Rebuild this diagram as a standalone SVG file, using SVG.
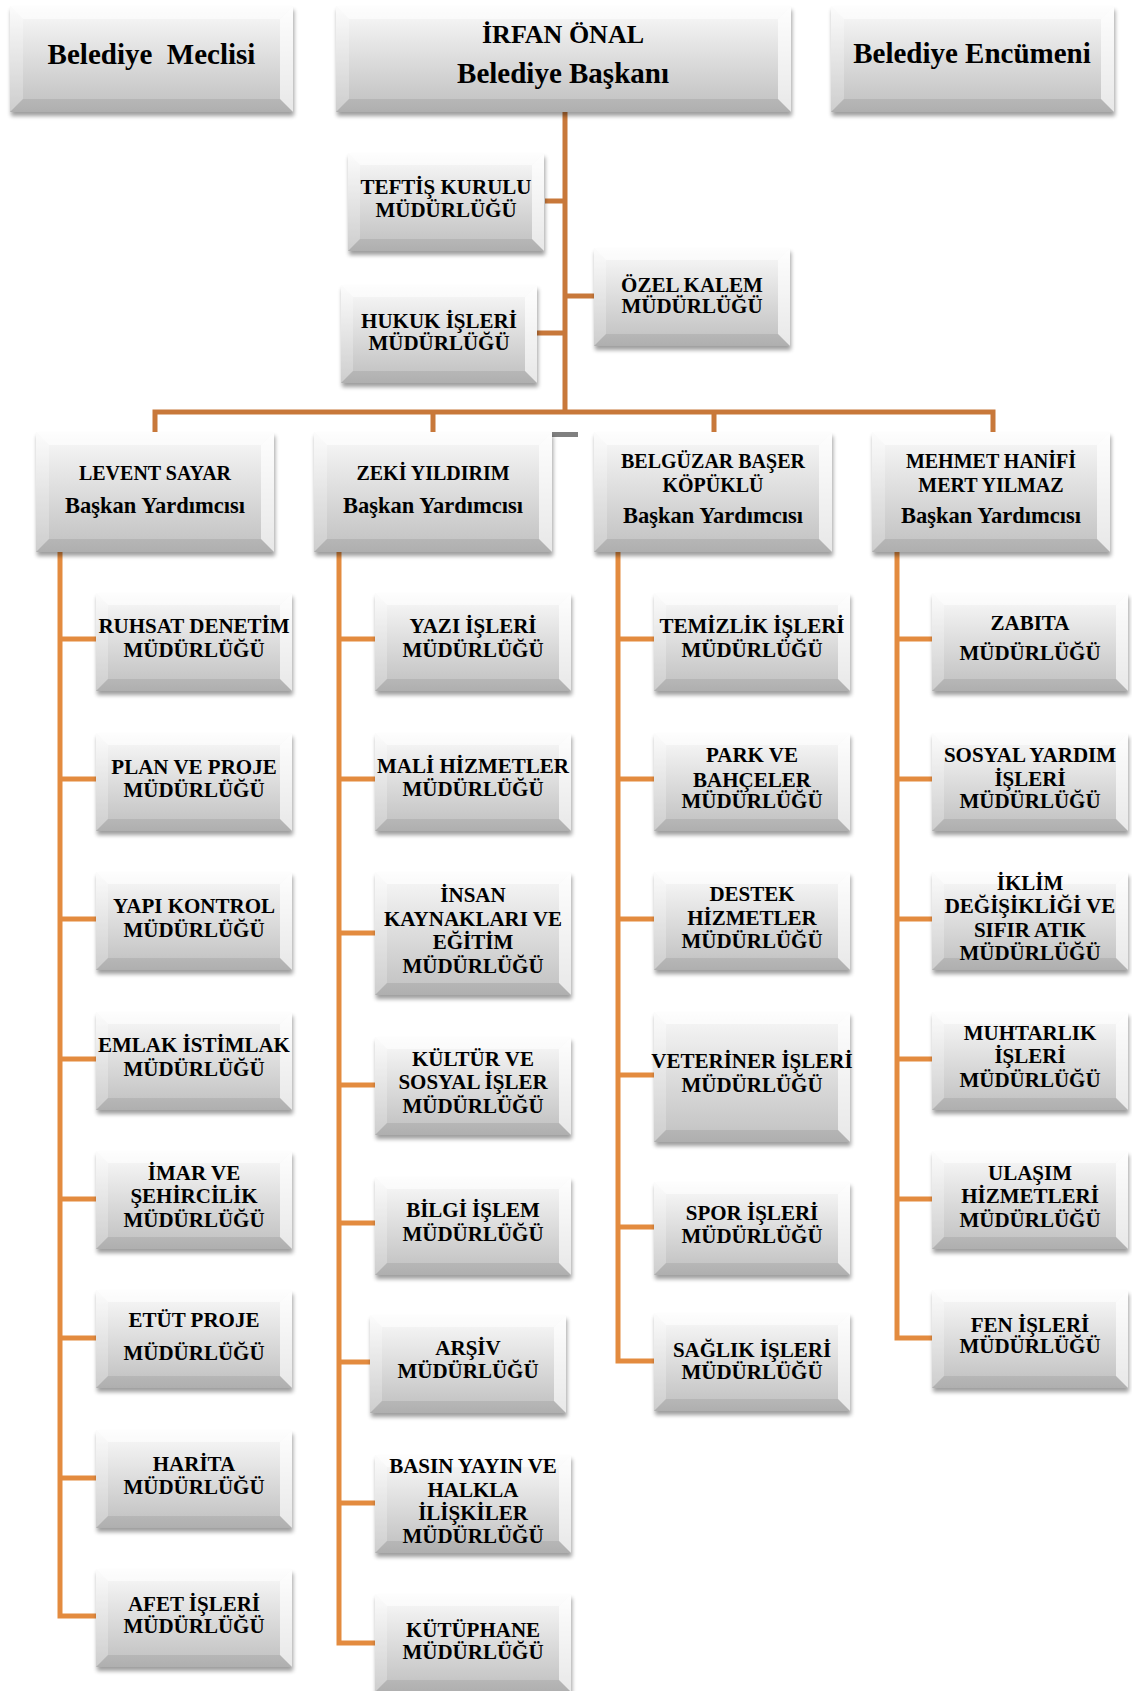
<svg xmlns="http://www.w3.org/2000/svg" width="1132" height="1691" viewBox="0 0 1132 1691">
<style>
.t{font-family:"Liberation Serif","Times New Roman",serif;font-weight:bold;font-size:21px;text-anchor:middle;fill:#000}
.tt{font-size:29px}
.tn{font-size:26px}
.vn{font-size:20px}
.vt{font-size:22.5px}
.sh{fill:#000;opacity:.38;filter:url(#blur)}
.bo{fill:url(#gO)}
.bi{fill:url(#gI)}
.bl{fill:#fff;opacity:.25}
.br{fill:#fff;opacity:.65}
.bb{fill:#000;opacity:.07}
.bt{fill:#fff;opacity:.55}
.cd{fill:none;stroke:#C8783A;stroke-width:5}
.cl{fill:none;stroke:#E38B3F;stroke-width:5}
</style>
<defs>
<filter id="blur" x="-10%" y="-10%" width="120%" height="130%"><feGaussianBlur stdDeviation="2.2"/></filter>
<linearGradient id="gO" x1="0" y1="0" x2="0" y2="1"><stop offset="0" stop-color="#fbfbfb"/><stop offset="1" stop-color="#bdbdbd"/></linearGradient>
<linearGradient id="gI" x1="0" y1="0" x2="0" y2="1"><stop offset="0" stop-color="#f3f3f3"/><stop offset="1" stop-color="#c6c6c6"/></linearGradient>
<g id="b98">
<rect x="1" y="4" width="196" height="98" class="sh"/>
<rect width="196" height="98" class="bo"/>
<polygon points="0,0 12,12 12,86 0,98" class="bl"/>
<polygon points="196,0 184,12 184,86 196,98" class="br"/>
<polygon points="0,98 12,86 184,86 196,98" class="bb"/>
<polygon points="0,0 196,0 184,12 12,12" class="bt"/>
<rect x="12" y="12" width="172" height="74" class="bi"/>
</g>
<g id="b123">
<rect x="1" y="4" width="196" height="123" class="sh"/>
<rect width="196" height="123" class="bo"/>
<polygon points="0,0 12,12 12,111 0,123" class="bl"/>
<polygon points="196,0 184,12 184,111 196,123" class="br"/>
<polygon points="0,123 12,111 184,111 196,123" class="bb"/>
<polygon points="0,0 196,0 184,12 12,12" class="bt"/>
<rect x="12" y="12" width="172" height="99" class="bi"/>
</g>
<g id="b130">
<rect x="1" y="4" width="196" height="130" class="sh"/>
<rect width="196" height="130" class="bo"/>
<polygon points="0,0 12,12 12,118 0,130" class="bl"/>
<polygon points="196,0 184,12 184,118 196,130" class="br"/>
<polygon points="0,130 12,118 184,118 196,130" class="bb"/>
<polygon points="0,0 196,0 184,12 12,12" class="bt"/>
<rect x="12" y="12" width="172" height="106" class="bi"/>
</g>
<g id="b93">
<rect x="1" y="4" width="196" height="93" class="sh"/>
<rect width="196" height="93" class="bo"/>
<polygon points="0,0 12,12 12,81 0,93" class="bl"/>
<polygon points="196,0 184,12 184,81 196,93" class="br"/>
<polygon points="0,93 12,81 184,81 196,93" class="bb"/>
<polygon points="0,0 196,0 184,12 12,12" class="bt"/>
<rect x="12" y="12" width="172" height="69" class="bi"/>
</g>
<g id="bvp">
<rect x="1" y="4" width="238" height="120" class="sh"/>
<rect width="238" height="120" class="bo"/>
<polygon points="0,0 13,13 13,107 0,120" class="bl"/>
<polygon points="238,0 225,13 225,107 238,120" class="br"/>
<polygon points="0,120 13,107 225,107 238,120" class="bb"/>
<polygon points="0,0 238,0 225,13 13,13" class="bt"/>
<rect x="13" y="13" width="212" height="94" class="bi"/>
</g>
<g id="bside">
<rect x="1" y="4" width="283" height="106" class="sh"/>
<rect width="283" height="106" class="bo"/>
<polygon points="0,0 13,13 13,93 0,106" class="bl"/>
<polygon points="283,0 270,13 270,93 283,106" class="br"/>
<polygon points="0,106 13,93 270,93 283,106" class="bb"/>
<polygon points="0,0 283,0 270,13 13,13" class="bt"/>
<rect x="13" y="13" width="257" height="80" class="bi"/>
</g>
<g id="bmain">
<rect x="1" y="4" width="455" height="106" class="sh"/>
<rect width="455" height="106" class="bo"/>
<polygon points="0,0 13,13 13,93 0,106" class="bl"/>
<polygon points="455,0 442,13 442,93 455,106" class="br"/>
<polygon points="0,106 13,93 442,93 455,106" class="bb"/>
<polygon points="0,0 455,0 442,13 13,13" class="bt"/>
<rect x="13" y="13" width="429" height="80" class="bi"/>
</g>
</defs>
<rect width="1132" height="1691" fill="#fff"/>

<g id="connectors">
<path class="cd" d="M565,112 V412 M545,201 H565 M537,333 H565 M565,296 H594 M155,434 V412 H993 V434 M433,412 V434 M714,412 V434"/>
<path class="cl" d="M60,552 V1616 H98 M60,639 H98 M60,779 H98 M60,919 H98 M60,1059 H98 M60,1199 H98 M60,1338 H98 M60,1478 H98"/>
<path class="cl" d="M339,552 V1643 H377 M339,639 H377 M339,779 H377 M339,933 H377 M339,1085 H377 M339,1223 H377 M339,1362 H372 M339,1503 H377"/>
<path class="cl" d="M618,552 V1361 H656 M618,639 H656 M618,779 H656 M618,919 H656 M618,1075 H656 M618,1227 H656"/>
<path class="cl" d="M897,552 V1338 H934 M897,639 H934 M897,779 H934 M897,919 H934 M897,1059 H934 M897,1199 H934"/>
</g>
<rect id="gray-mark" x="547" y="432" width="31" height="5" fill="#808080"/>

<g id="n-meclis"><use href="#bside" x="10" y="6"/><text class="t tt" x="151.5" y="64" xml:space="preserve">Belediye  Meclisi</text></g>
<g id="n-baskan"><use href="#bmain" x="336" y="6"/><text class="t tn" x="563" y="43">İRFAN ÖNAL</text><text class="t tt" x="563" y="83">Belediye Başkanı</text></g>
<g id="n-encumen"><use href="#bside" x="831" y="6"/><text class="t tt" x="972" y="63">Belediye Encümeni</text></g>

<g id="n-teftis"><use href="#b98" x="348" y="153"/><text class="t" x="446" y="194">TEFTİŞ KURULU</text><text class="t" x="446" y="217">MÜDÜRLÜĞÜ</text></g>
<g id="n-hukuk"><use href="#b98" x="341" y="285"/><text class="t" x="439" y="328">HUKUK İŞLERİ</text><text class="t" x="439" y="350">MÜDÜRLÜĞÜ</text></g>
<g id="n-ozel"><use href="#b98" x="594" y="248"/><text class="t" x="692" y="292">ÖZEL KALEM</text><text class="t" x="692" y="313">MÜDÜRLÜĞÜ</text></g>

<g id="n-vp1"><use href="#bvp" x="36" y="432"/><text class="t vn" x="155" y="480">LEVENT SAYAR</text><text class="t vt" x="155" y="513">Başkan Yardımcısı</text></g>
<g id="n-vp2"><use href="#bvp" x="314" y="432"/><text class="t vn" x="433" y="480">ZEKİ YILDIRIM</text><text class="t vt" x="433" y="513">Başkan Yardımcısı</text></g>
<g id="n-vp3"><use href="#bvp" x="594" y="432"/><text class="t vn" x="713" y="468">BELGÜZAR BAŞER</text><text class="t vn" x="713" y="492">KÖPÜKLÜ</text><text class="t vt" x="713" y="523">Başkan Yardımcısı</text></g>
<g id="n-vp4"><use href="#bvp" x="872" y="432"/><text class="t vn" x="991" y="468">MEHMET HANİFİ</text><text class="t vn" x="991" y="492">MERT YILMAZ</text><text class="t vt" x="991" y="523">Başkan Yardımcısı</text></g>

<g id="n-ruhsat"><use href="#b98" x="96" y="593"/><text class="t" x="194" y="633">RUHSAT DENETİM</text><text class="t" x="194" y="657">MÜDÜRLÜĞÜ</text></g>
<g id="n-plan"><use href="#b98" x="96" y="733"/><text class="t" x="194" y="774">PLAN VE PROJE</text><text class="t" x="194" y="797">MÜDÜRLÜĞÜ</text></g>
<g id="n-yapi"><use href="#b98" x="96" y="872"/><text class="t" x="194" y="913">YAPI KONTROL</text><text class="t" x="194" y="937">MÜDÜRLÜĞÜ</text></g>
<g id="n-emlak"><use href="#b98" x="96" y="1012"/><text class="t" x="194" y="1052">EMLAK İSTİMLAK</text><text class="t" x="194" y="1076">MÜDÜRLÜĞÜ</text></g>
<g id="n-imar"><use href="#b98" x="96" y="1151"/><text class="t" x="194" y="1180">İMAR VE</text><text class="t" x="194" y="1203">ŞEHİRCİLİK</text><text class="t" x="194" y="1227">MÜDÜRLÜĞÜ</text></g>
<g id="n-etut"><use href="#b98" x="96" y="1290"/><text class="t" x="194" y="1327">ETÜT PROJE</text><text class="t" x="194" y="1360">MÜDÜRLÜĞÜ</text></g>
<g id="n-harita"><use href="#b98" x="96" y="1430"/><text class="t" x="194" y="1471">HARİTA</text><text class="t" x="194" y="1494">MÜDÜRLÜĞÜ</text></g>
<g id="n-afet"><use href="#b98" x="96" y="1569"/><text class="t" x="194" y="1611">AFET İŞLERİ</text><text class="t" x="194" y="1633">MÜDÜRLÜĞÜ</text></g>

<g id="n-yazi"><use href="#b98" x="375" y="593"/><text class="t" x="473" y="633">YAZI İŞLERİ</text><text class="t" x="473" y="657">MÜDÜRLÜĞÜ</text></g>
<g id="n-mali"><use href="#b98" x="375" y="733"/><text class="t" x="473" y="773">MALİ HİZMETLER</text><text class="t" x="473" y="796">MÜDÜRLÜĞÜ</text></g>
<g id="n-insan"><use href="#b123" x="375" y="872"/><text class="t" x="473" y="902">İNSAN</text><text class="t" x="473" y="926">KAYNAKLARI VE</text><text class="t" x="473" y="949">EĞİTİM</text><text class="t" x="473" y="973">MÜDÜRLÜĞÜ</text></g>
<g id="n-kultur"><use href="#b98" x="375" y="1037"/><text class="t" x="473" y="1066">KÜLTÜR VE</text><text class="t" x="473" y="1089">SOSYAL İŞLER</text><text class="t" x="473" y="1113">MÜDÜRLÜĞÜ</text></g>
<g id="n-bilgi"><use href="#b98" x="375" y="1177"/><text class="t" x="473" y="1217">BİLGİ İŞLEM</text><text class="t" x="473" y="1241">MÜDÜRLÜĞÜ</text></g>
<g id="n-arsiv"><use href="#b98" x="370" y="1315"/><text class="t" x="468" y="1355">ARŞİV</text><text class="t" x="468" y="1378">MÜDÜRLÜĞÜ</text></g>
<g id="n-basin"><use href="#b98" x="375" y="1455"/><text class="t" x="473" y="1473">BASIN YAYIN VE</text><text class="t" x="473" y="1497">HALKLA</text><text class="t" x="473" y="1520">İLİŞKİLER</text><text class="t" x="473" y="1543">MÜDÜRLÜĞÜ</text></g>
<g id="n-kutuphane"><use href="#b98" x="375" y="1594"/><text class="t" x="473" y="1637">KÜTÜPHANE</text><text class="t" x="473" y="1659">MÜDÜRLÜĞÜ</text></g>

<g id="n-temizlik"><use href="#b98" x="654" y="593"/><text class="t" x="752" y="633">TEMİZLİK İŞLERİ</text><text class="t" x="752" y="657">MÜDÜRLÜĞÜ</text></g>
<g id="n-park"><use href="#b98" x="654" y="733"/><text class="t" x="752" y="762">PARK VE</text><text class="t" x="752" y="787">BAHÇELER</text><text class="t" x="752" y="808">MÜDÜRLÜĞÜ</text></g>
<g id="n-destek"><use href="#b98" x="654" y="872"/><text class="t" x="752" y="901">DESTEK</text><text class="t" x="752" y="925">HİZMETLER</text><text class="t" x="752" y="948">MÜDÜRLÜĞÜ</text></g>
<g id="n-veteriner"><use href="#b130" x="654" y="1012"/><text class="t" x="752" y="1068">VETERİNER İŞLERİ</text><text class="t" x="752" y="1092">MÜDÜRLÜĞÜ</text></g>
<g id="n-spor"><use href="#b93" x="654" y="1182"/><text class="t" x="752" y="1220">SPOR İŞLERİ</text><text class="t" x="752" y="1243">MÜDÜRLÜĞÜ</text></g>
<g id="n-saglik"><use href="#b98" x="654" y="1313"/><text class="t" x="752" y="1357">SAĞLIK İŞLERİ</text><text class="t" x="752" y="1379">MÜDÜRLÜĞÜ</text></g>

<g id="n-zabita"><use href="#b98" x="932" y="593"/><text class="t" x="1030" y="630">ZABITA</text><text class="t" x="1030" y="660">MÜDÜRLÜĞÜ</text></g>
<g id="n-sosyal"><use href="#b98" x="932" y="733"/><text class="t" x="1030" y="762">SOSYAL YARDIM</text><text class="t" x="1030" y="786">İŞLERİ</text><text class="t" x="1030" y="808">MÜDÜRLÜĞÜ</text></g>
<g id="n-iklim"><use href="#b98" x="932" y="872"/><text class="t" x="1030" y="890">İKLİM</text><text class="t" x="1030" y="913">DEĞİŞİKLİĞİ VE</text><text class="t" x="1030" y="937">SIFIR ATIK</text><text class="t" x="1030" y="960">MÜDÜRLÜĞÜ</text></g>
<g id="n-muhtarlik"><use href="#b98" x="932" y="1012"/><text class="t" x="1030" y="1040">MUHTARLIK</text><text class="t" x="1030" y="1063">İŞLERİ</text><text class="t" x="1030" y="1087">MÜDÜRLÜĞÜ</text></g>
<g id="n-ulasim"><use href="#b98" x="932" y="1151"/><text class="t" x="1030" y="1180">ULAŞIM</text><text class="t" x="1030" y="1203">HİZMETLERİ</text><text class="t" x="1030" y="1227">MÜDÜRLÜĞÜ</text></g>
<g id="n-fen"><use href="#b98" x="932" y="1290"/><text class="t" x="1030" y="1332">FEN İŞLERİ</text><text class="t" x="1030" y="1353">MÜDÜRLÜĞÜ</text></g>
</svg>
